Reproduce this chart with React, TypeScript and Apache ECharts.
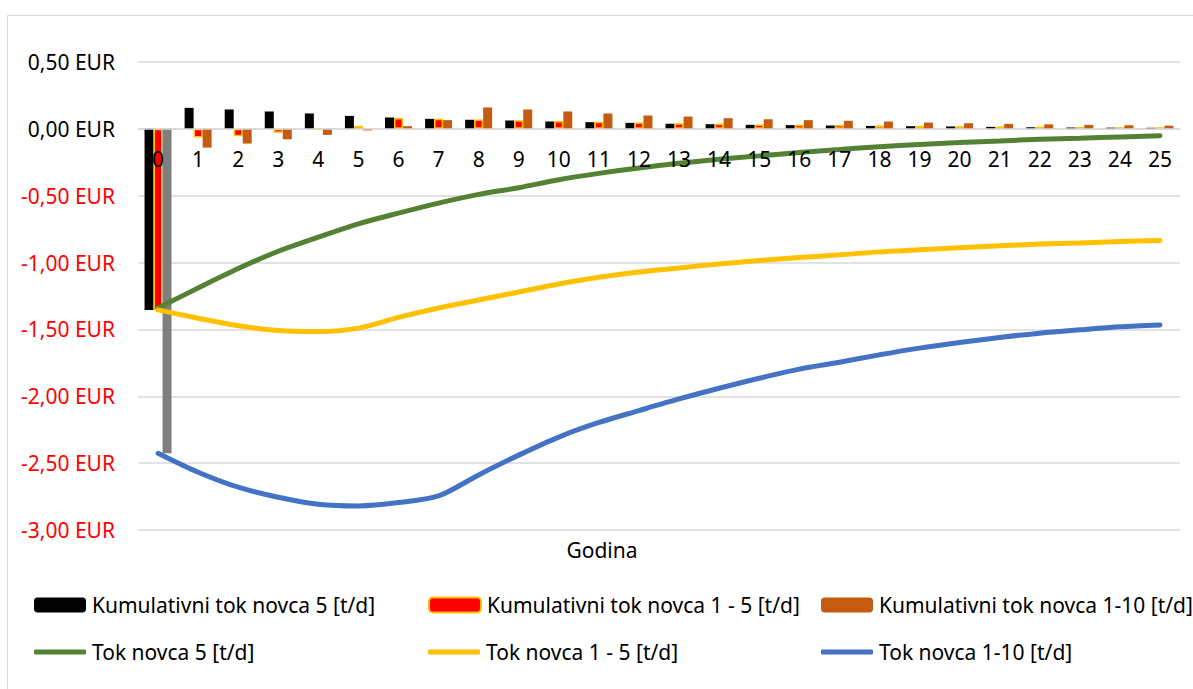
import React, { useEffect, useRef } from "react";
import * as echarts from "echarts";

const years = ["0","1","2","3","4","5","6","7","8","9","10","11","12","13","14","15","16","17","18","19","20","21","22","23","24","25"];

const barNames = [
  "Kumulativni tok novca 5 [t/d]",
  "Kumulativni tok novca 1 - 5 [t/d]",
  "Kumulativni tok novca 1-10 [t/d]",
];
const lineNames = ["Tok novca 5 [t/d]", "Tok novca 1 - 5 [t/d]", "Tok novca 1-10 [t/d]"];

const bar5 = [-1.354, 0.157, 0.145, 0.13, 0.115, 0.097, 0.085, 0.075, 0.068, 0.062, 0.055, 0.05, 0.045, 0.038, 0.035, 0.03, 0.028, 0.025, 0.022, 0.02, 0.018, 0.015, 0.012, 0.01, 0.009, 0.008];
const bar1to5 = [-1.354, -0.065, -0.055, -0.03, -0.006, 0.022, 0.082, 0.075, 0.07, 0.064, 0.058, 0.053, 0.048, 0.042, 0.038, 0.033, 0.03, 0.028, 0.025, 0.022, 0.02, 0.018, 0.016, 0.014, 0.012, 0.011];
const bar1to10 = [-2.426, -0.14, -0.11, -0.078, -0.045, -0.012, 0.02, 0.065, 0.16, 0.145, 0.13, 0.115, 0.1, 0.092, 0.08, 0.072, 0.065, 0.06, 0.055, 0.047, 0.042, 0.037, 0.034, 0.03, 0.027, 0.024];

const line5 = [-1.34, -1.19, -1.045, -0.915, -0.81, -0.71, -0.63, -0.555, -0.49, -0.44, -0.38, -0.333, -0.292, -0.257, -0.227, -0.202, -0.177, -0.155, -0.133, -0.117, -0.102, -0.09, -0.078, -0.07, -0.06, -0.052];
const line1to5 = [-1.354, -1.416, -1.473, -1.508, -1.516, -1.49, -1.41, -1.34, -1.28, -1.22, -1.16, -1.11, -1.07, -1.04, -1.01, -0.985, -0.962, -0.942, -0.92, -0.905, -0.89, -0.875, -0.862, -0.853, -0.843, -0.835];
const line1to10 = [-2.426, -2.568, -2.68, -2.755, -2.807, -2.82, -2.795, -2.745, -2.588, -2.44, -2.305, -2.196, -2.107, -2.02, -1.94, -1.865, -1.797, -1.745, -1.69, -1.64, -1.598, -1.56, -1.528, -1.503, -1.48, -1.466];

const yTicks = { min: -3, max: 0.5, interval: 0.5 };

const FONT = "Noto Sans";

export default function App() {
  const ref = useRef<HTMLDivElement>(null);
  useEffect(() => {
    if (!ref.current) return;
    const chart = echarts.init(ref.current, null, { renderer: "svg" });
    const gridTop = 62;
    const gridBottom = 159;
    const plotH = 689 - gridTop - gridBottom;
    const zeroFromBottom = ((0 - yTicks.min) / (yTicks.max - yTicks.min)) * plotH;
    const legendPos = [
      { left: 34, top: 593 },
      { left: 428, top: 593 },
      { left: 821, top: 593 },
      { left: 34, top: 640 },
      { left: 428, top: 640 },
      { left: 821, top: 640 },
    ];
    const allNames = [...barNames, ...lineNames];
    const option: any = {
      animation: false,
      backgroundColor: "#ffffff",
      textStyle: { fontFamily: FONT },
      grid: { left: 138, right: 13, top: gridTop, bottom: gridBottom, containLabel: false },
      legend: allNames.map((n, i) => {
        const isLine = i >= 3;
        return {
          data: [isLine ? { name: n, icon: "roundRect" } : n],
          left: legendPos[i].left,
          top: legendPos[i].top,
          padding: 0,
          itemWidth: 52,
          itemHeight: isLine ? 5 : 15,
          itemGap: 0,
          selectedMode: false,
          textStyle: { fontSize: 21, color: "#000000", fontFamily: FONT, lineHeight: 24, padding: [0, 0, 0, 1] },
        };
      }),
      xAxis: {
        type: "category",
        data: years,
        z: 7,
        position: "bottom",
        offset: -zeroFromBottom,
        axisLine: { onZero: false, lineStyle: { color: "#d9d9d9", width: 1.5 } },
        axisTick: { show: false },
        axisLabel: { interval: 0, fontSize: 21, color: "#000000", margin: 20, fontFamily: FONT },
        splitLine: { show: false },
      },
      yAxis: {
        type: "value",
        min: yTicks.min,
        max: yTicks.max,
        interval: yTicks.interval,
        axisLine: { show: false },
        axisTick: { show: false },
        splitLine: { lineStyle: { color: "#d9d9d9", width: 1.5 } },
        axisLabel: {
          fontSize: 21,
          margin: 23,
          fontFamily: FONT,
          color: (v: any) => (Number(v) < 0 ? "#FF0000" : "#000000"),
          formatter: (v: number) => {
            const s = Math.abs(v).toFixed(2).replace(".", ",");
            return (v < -1e-9 ? "-" : "") + s + " EUR";
          },
        },
      },
      graphic: [
        {
          type: "rect",
          silent: true,
          z: -10,
          shape: { x: 7.5, y: 15.5, width: 1300, height: 800 },
          style: { fill: "none", stroke: "#d9d9d9", lineWidth: 1 },
        },
        {
          type: "text",
          x: 602,
          y: 550,
          style: { text: "Godina", fontSize: 21, fontFamily: FONT, fill: "#000000", align: "center", verticalAlign: "middle" },
        },
      ],
      series: [
        {
          name: barNames[0],
          type: "bar",
          data: bar5,
          barWidth: 9,
          barGap: "0%",
          itemStyle: { color: "#000000" },
          z: 2,
        },
        {
          name: barNames[1],
          type: "bar",
          data: bar1to5,
          barWidth: 9,
          barGap: "0%",
          itemStyle: { color: "#FF0000", borderColor: "#FFC000", borderWidth: 1.5 },
          z: 2,
        },
        {
          name: barNames[2],
          type: "bar",
          data: bar1to10.map((v, i) => (i === 0 ? { value: v, itemStyle: { color: "#7F7F7F" } } : v)),
          barWidth: 9,
          barGap: "0%",
          itemStyle: { color: "#C55A11" },
          z: 2,
        },
        {
          name: lineNames[0],
          type: "line",
          data: line5,
          smooth: 0.3,
          symbol: "none",
          lineStyle: { color: "#548235", width: 5, cap: "round" },
          itemStyle: { color: "#548235" },
          z: 6,
        },
        {
          name: lineNames[1],
          type: "line",
          data: line1to5,
          smooth: 0.3,
          symbol: "none",
          lineStyle: { color: "#FFC000", width: 5, cap: "round" },
          itemStyle: { color: "#FFC000" },
          z: 6,
        },
        {
          name: lineNames[2],
          type: "line",
          data: line1to10,
          smooth: 0.3,
          symbol: "none",
          lineStyle: { color: "#4472C4", width: 5, cap: "round" },
          itemStyle: { color: "#4472C4" },
          z: 6,
        },
      ],
    };
    chart.setOption(option);
    return () => chart.dispose();
  }, []);
  return (
    <div
      ref={ref}
      style={{ position: "absolute", left: 0, top: 0, width: 1193, height: 689 }}
    />
  );
}
